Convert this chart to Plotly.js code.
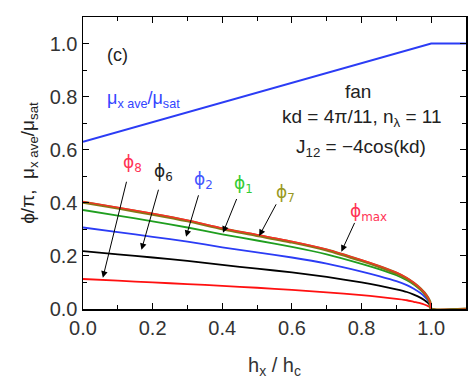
<!DOCTYPE html>
<html>
<head>
<meta charset="utf-8">
<script src="https://cdn.plot.ly/plotly-3.0.1.min.js"></script>
<style>
  html, body { margin: 0; padding: 0; background: #fff; }
  #chart { width: 471px; height: 386px; }
</style>
</head>
<body>
<div id="chart"></div>
<script>
// h_x / h_c sample points for the phi curves
const hx = [0, 0.1, 0.2, 0.3, 0.4, 0.5, 0.6, 0.7, 0.8, 0.85, 0.9, 0.93, 0.95, 0.97, 0.98, 0.99, 0.997, 1.0, 1.1];

// phi / pi
const phiMax = [0.405, 0.383, 0.36, 0.335, 0.305, 0.28, 0.255, 0.225, 0.185, 0.163, 0.138, 0.118, 0.1, 0.077, 0.063, 0.045, 0.025, 0, 0];
const phi7 = [0.402, 0.380, 0.357, 0.332, 0.302, 0.277, 0.252, 0.222, 0.182, 0.160, 0.135, 0.115, 0.097, 0.075, 0.061, 0.043, 0.024, 0, 0];
const phi1 = [0.373, 0.352, 0.33, 0.307, 0.281, 0.258, 0.234, 0.206, 0.17, 0.15, 0.127, 0.108, 0.092, 0.071, 0.058, 0.041, 0.023, 0, 0];
const phi2 = [0.307, 0.29, 0.272, 0.254, 0.232, 0.213, 0.194, 0.171, 0.141, 0.124, 0.105, 0.09, 0.076, 0.059, 0.048, 0.034, 0.019, 0, 0];
const phi6 = [0.218, 0.206, 0.194, 0.181, 0.166, 0.152, 0.138, 0.121, 0.1, 0.088, 0.074, 0.064, 0.054, 0.042, 0.034, 0.024, 0.0135, 0, 0];
const phi8 = [0.113, 0.107, 0.1, 0.094, 0.087, 0.08, 0.072, 0.063, 0.052, 0.046, 0.038, 0.033, 0.027, 0.021, 0.017, 0.012, 0.007, 0, 0];

// mu_x ave / mu_sat
const muX = [0, 1.0, 1.1];
const muY = [0.63, 1.0, 1.0];

const FONT = "Liberation Sans, Arial, sans-serif";
const PHI_FONT = "DejaVu Sans, Liberation Sans, sans-serif";

const line = (y, x, color, width, smooth) => ({
  x: x,
  y: y,
  type: "scatter",
  mode: "lines",
  line: smooth
    ? { color: color, width: width, shape: "spline", smoothing: 0.6 }
    : { color: color, width: width },
  hoverinfo: "skip",
});

const data = [
  line(muY, muX, "#2b3cf5", 2, false),
  line(phi8, hx, "#ff1010", 1.8, true),
  line(phi6, hx, "#000000", 1.8, true),
  line(phi2, hx, "#2b3cf5", 1.8, true),
  line(phi1, hx, "#1f9e1f", 1.8, true),
  line(phi7, hx, "#8a7416", 3, true),
  line(phiMax, hx, "#ff2a2a", 1.2, true),
];

// labels
const label = (text, x, y, color, size, family) => ({
  text: text, x: x, y: y, xref: "x", yref: "y",
  showarrow: false,
  font: { family: family || FONT, size: size || 18, color: color },
});

// arrows: tail (ax, ay) -> tip (x, y)
const arrow = (ax, ay, x, y) => ({
  text: "", x: x, y: y, ax: ax, ay: ay,
  xref: "x", yref: "y", axref: "x", ayref: "y",
  showarrow: true, arrowhead: 2, arrowsize: 1.3, arrowwidth: 1, arrowcolor: "#000",
});

const annotations = [
  label("(c)", 0.1, 0.955, "#222", 18),
  label("μ<sub>x ave</sub>/μ<sub>sat</sub>", 0.175, 0.79, "#3344ff", 18),
  label("fan", 0.79, 0.818, "#222", 19),
  label("kd = 4π/11, n<sub>λ</sub> = 11", 0.802, 0.72, "#222", 19),
  label("J<sub>12</sub> = −4cos(kd)", 0.797, 0.605, "#222", 19),
  label("ϕ<sub>8</sub>", 0.143, 0.55, "#ff3355", 17, PHI_FONT),
  label("ϕ<sub>6</sub>", 0.232, 0.515, "#222", 17, PHI_FONT),
  label("ϕ<sub>2</sub>", 0.345, 0.485, "#4455ff", 17, PHI_FONT),
  label("ϕ<sub>1</sub>", 0.46, 0.47, "#33cc33", 17, PHI_FONT),
  label("ϕ<sub>7</sub>", 0.583, 0.434, "#999922", 17, PHI_FONT),
  label("ϕ<sub>max</sub>", 0.82, 0.365, "#ff3355", 17, PHI_FONT),
  arrow(0.126, 0.485, 0.057, 0.118),
  arrow(0.218, 0.455, 0.168, 0.223),
  arrow(0.333, 0.434, 0.296, 0.272),
  arrow(0.443, 0.42, 0.402, 0.287),
  arrow(0.557, 0.40, 0.506, 0.275),
  arrow(0.782, 0.33, 0.742, 0.216),
];

const axisCommon = {
  showgrid: false,
  zeroline: false,
  showline: true,
  linecolor: "#000",
  linewidth: 1.5,
  mirror: "ticks",
  ticks: "inside",
  ticklen: 6,
  tickwidth: 1,
  tickcolor: "#000",
  tickformat: ".1f",
  tickfont: { family: FONT, size: 20, color: "#333" },
  minor: { dtick: 0.1, ticks: "inside", ticklen: 4, tickcolor: "#000" },
};

const layout = {
  width: 471,
  height: 386,
  margin: { l: 83, r: 5, t: 17, b: 77 },
  paper_bgcolor: "#fff",
  plot_bgcolor: "#fff",
  showlegend: false,
  xaxis: {
    ...axisCommon,
    range: [0, 1.1],
    dtick: 0.2,
    title: {
      text: "h<sub>x</sub> / h<sub>c</sub>",
      font: { family: FONT, size: 20, color: "#333" },
      standoff: 20,
    },
  },
  yaxis: {
    ...axisCommon,
    range: [0, 1.1],
    dtick: 0.2,
    title: {
      text: "ϕ/π,  μ<sub>x ave</sub>/μ<sub>sat</sub>",
      font: { family: FONT, size: 19, color: "#222" },
      standoff: 10,
    },
  },
  annotations: annotations,
};

Plotly.newPlot("chart", data, layout, { staticPlot: true, displayModeBar: false });
</script>
</body>
</html>
